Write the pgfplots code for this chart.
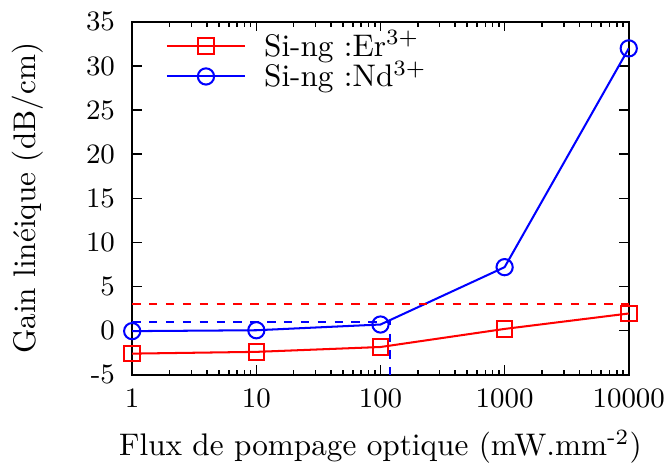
\documentclass[border=0pt]{standalone}
\usepackage{pgfplots}
\pgfplotsset{compat=1.18}
\begin{document}
\begin{tikzpicture}
\begin{axis}[
  xmode=log, xmin=1, xmax=10000,
  ymin=-5, ymax=35,
  scale only axis, width=159pt, height=113pt,
  xtick={1,10,100,1000,10000},
  xticklabels={1,10,100,1000,10000},
  ytick={-5,0,5,10,15,20,25,30,35},
  yticklabels={-5,0,5,10,15,20,25,30,35},
  ticklabel style={font=\small},
  xticklabel style={inner sep=1pt, yshift=-3.4pt},
  yticklabel style={xshift=-2pt},
  tick align=inside,
  major tick length=3pt, minor tick length=1.6pt,
  tick style={black, line width=0.5pt},
  axis line style={line width=0.6pt},
  xlabel={Flux de pompage optique (mW.mm\textsuperscript{-2})},
  ylabel={Gain linéique (dB/cm)},
  xlabel style={at={([yshift=-26pt]axis description cs:0.5,0)}, anchor=base, inner sep=1pt},
  ylabel style={at={([xshift=-31pt]axis description cs:0,0.5)}, anchor=base},
  legend style={at={([xshift=10.6pt,yshift=-1.6pt]axis description cs:0,1)}, anchor=north west,
    draw=none, fill=none, inner sep=0pt, row sep=-1.8pt, column sep=4.8pt,
    nodes={inner sep=1pt}},
  legend cell align=left,
  legend image code/.code={\draw[mark repeat=2,mark phase=2] plot coordinates {(0pt,0pt) (12.5pt,0pt) (25pt,0pt)};},
]
\addplot[red, line width=0.65pt, mark=square, mark size=2.5pt, mark options={solid}] coordinates {
  (1,-2.6) (10,-2.4) (100,-1.85) (1000,0.2) (10000,1.95)};
\addlegendentry{Si-ng :Er$^{3+}$}
\addplot[blue, line width=0.65pt, mark=o, mark size=2.6pt, mark options={solid}] coordinates {
  (1,-0.05) (10,0.05) (100,0.7) (1000,7.2) (10000,32)};
\addlegendentry{Si-ng :Nd$^{3+}$}
\addplot[red, dash pattern=on 2.7pt off 2.7pt, line width=0.55pt, forget plot] coordinates {(1,3) (10000,3)};
\addplot[blue, dash pattern=on 2.7pt off 2.7pt, line width=0.55pt, forget plot] coordinates {(1,1) (120,1) (120,-5)};
\end{axis}
\coordinate (sw) at (current bounding box.south west);
\coordinate (ne) at (current bounding box.north east);
\path ([shift={(-0.5pt,0pt)}]sw) ([shift={(0pt,0.6pt)}]ne);
\end{tikzpicture}
\end{document}
